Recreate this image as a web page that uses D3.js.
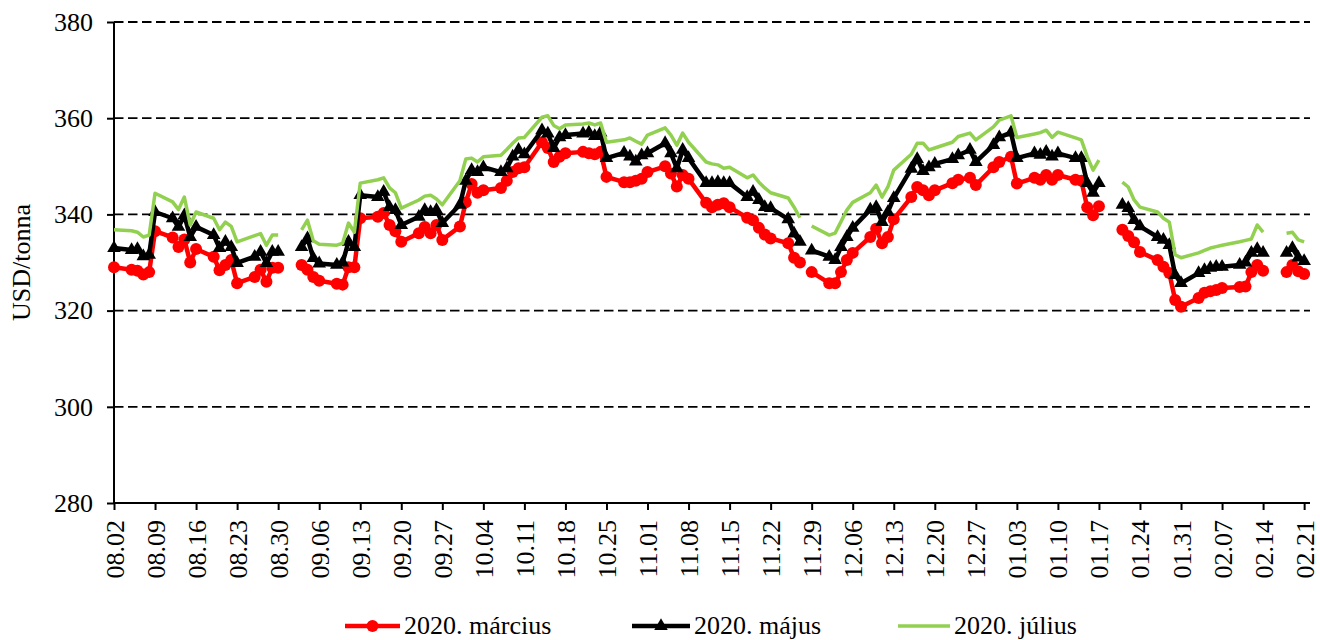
<!DOCTYPE html>
<html>
<head>
<meta charset="utf-8">
<script src="https://cdnjs.cloudflare.com/ajax/libs/d3/7.8.5/d3.min.js"></script>
<style>
  body { margin: 0; background: #fff; }
  svg { display: block; font-family: "Liberation Serif", "Times New Roman", serif; }
</style>
</head>
<body>
<svg id="chart"></svg>
<script>
// trading days (MM.DD), 2019-08 .. 2020-02; null = no quote (US holiday)
const days = [
  "08.02",
  "08.05","08.06","08.07","08.08","08.09",
  "08.12","08.13","08.14","08.15","08.16",
  "08.19","08.20","08.21","08.22","08.23",
  "08.26","08.27","08.28","08.29","08.30",
  "09.02","09.03","09.04","09.05","09.06",
  "09.09","09.10","09.11","09.12","09.13",
  "09.16","09.17","09.18","09.19","09.20",
  "09.23","09.24","09.25","09.26","09.27",
  "09.30","10.01","10.02","10.03","10.04",
  "10.07","10.08","10.09","10.10","10.11",
  "10.14","10.15","10.16","10.17","10.18",
  "10.21","10.22","10.23","10.24","10.25",
  "10.28","10.29","10.30","10.31","11.01",
  "11.04","11.05","11.06","11.07","11.08",
  "11.11","11.12","11.13","11.14","11.15",
  "11.18","11.19","11.20","11.21","11.22",
  "11.25","11.26","11.27","11.28","11.29",
  "12.02","12.03","12.04","12.05","12.06",
  "12.09","12.10","12.11","12.12","12.13",
  "12.16","12.17","12.18","12.19","12.20",
  "12.23","12.24","12.26","12.27",
  "12.30","12.31","01.02","01.03",
  "01.06","01.07","01.08","01.09","01.10",
  "01.13","01.14","01.15","01.16","01.17",
  "01.20","01.21","01.22","01.23","01.24",
  "01.27","01.28","01.29","01.30","01.31",
  "02.03","02.04","02.05","02.06","02.07",
  "02.10","02.11","02.12","02.13","02.14",
  "02.17","02.18","02.19","02.20","02.21"
];

const marcius = [
  329.0,
  328.5,328.3,327.5,328.0,336.5,
  335.2,333.2,334.8,330.0,332.8,
  331.2,328.4,329.5,330.5,325.7,
  327.0,328.5,326.0,328.9,328.9,
  null,329.5,328.5,327.0,326.2,
  325.6,325.4,329.0,329.0,339.2,
  339.5,340.3,337.8,336.5,334.3,
  336.1,337.4,336.1,337.8,334.7,
  337.5,342.5,346.3,344.5,345.0,
  345.5,347.0,348.8,349.6,349.8,
  355.0,353.8,350.9,352.0,352.7,
  353.0,352.7,352.5,353.0,347.8,
  346.7,346.7,347.0,347.4,348.8,
  350.0,348.5,345.8,348.2,347.4,
  342.4,341.5,342.0,342.3,341.5,
  339.3,338.8,337.2,335.8,335.0,
  334.0,331.0,330.0,null,328.0,
  325.7,325.7,328.0,330.5,332.0,
  335.3,337.0,334.0,335.3,339.0,
  343.6,345.7,345.0,344.0,345.0,
  346.5,347.2,347.6,346.1,
  349.8,350.9,352.0,346.4,
  347.6,347.2,348.2,347.2,348.2,
  347.2,347.0,341.5,339.8,341.7,
  null,336.8,335.5,334.2,332.2,
  330.5,329.1,327.8,322.2,320.8,
  322.6,323.7,324.0,324.3,324.7,
  324.9,325.0,328.0,329.5,328.3,
  null,328.0,329.5,328.2,327.6
];

const majus = [
  333.0,
  332.6,332.8,331.3,331.6,340.5,
  339.2,337.4,339.8,335.3,337.4,
  335.7,333.0,334.3,333.2,329.9,
  331.2,332.2,329.9,332.2,332.2,
  null,333.2,335.0,330.9,329.8,
  329.5,330.0,334.3,333.2,344.0,
  343.6,344.7,341.5,340.9,337.8,
  339.5,340.9,340.5,340.9,338.2,
  342.0,347.0,349.2,348.8,349.8,
  348.8,349.6,352.0,353.4,352.5,
  357.5,356.8,353.8,356.0,356.5,
  356.8,357.0,356.3,357.0,351.7,
  352.8,352.0,351.0,352.3,352.7,
  354.8,352.7,349.6,353.4,351.7,
  346.5,346.5,346.7,346.5,346.5,
  343.6,344.7,343.0,341.5,341.3,
  339.0,336.0,334.3,null,332.5,
  331.2,330.5,333.2,335.3,337.2,
  341.0,341.5,338.4,340.5,343.4,
  349.5,351.5,349.0,349.8,350.5,
  351.5,352.3,353.4,350.9,
  354.4,356.0,357.0,351.7,
  352.7,352.4,353.0,352.0,352.7,
  351.7,351.7,346.5,344.5,346.5,
  null,342.0,341.3,338.8,337.5,
  335.3,334.7,333.6,327.4,325.7,
  327.8,328.4,328.9,329.1,329.1,
  329.5,330.0,332.0,332.8,332.0,
  null,332.0,333.0,331.0,330.3
];

const julius = [
  336.8,
  336.6,336.3,335.3,335.7,344.4,
  342.6,341.0,343.6,337.8,340.5,
  339.2,336.8,338.4,337.5,334.3,
  335.6,336.0,333.6,335.7,335.7,
  null,336.8,338.8,334.5,333.8,
  333.6,334.0,338.2,336.3,346.5,
  347.2,347.6,345.5,344.5,341.3,
  343.0,343.8,344.0,343.2,342.0,
  347.0,351.5,351.7,350.9,352.0,
  352.3,353.5,354.8,355.9,356.0,
  360.2,360.5,358.5,357.8,358.6,
  358.8,359.0,358.6,359.0,355.0,
  355.5,355.9,355.2,354.6,356.5,
  358.0,356.5,354.4,356.9,355.0,
  350.9,350.5,350.3,349.6,349.8,
  347.6,348.2,346.7,345.5,344.5,
  343.4,341.5,339.3,null,337.6,
  335.7,336.1,338.5,340.9,342.5,
  344.5,346.1,343.6,345.7,349.2,
  352.5,354.8,354.8,353.4,353.8,
  355.0,356.2,356.9,355.5,
  358.2,359.6,360.5,356.0,
  356.7,357.0,357.5,356.0,357.1,
  355.9,355.5,352.0,349.2,351.3,
  null,346.7,345.7,343.0,341.5,
  340.5,339.2,338.4,331.6,331.0,
  332.0,332.5,333.0,333.3,333.6,
  334.3,334.6,334.9,337.8,336.3,
  null,336.1,336.3,334.7,334.3
];

const xTickLabels = [
  "08.02","08.09","08.16","08.23","08.30","09.06","09.13","09.20","09.27",
  "10.04","10.11","10.18","10.25","11.01","11.08","11.15","11.22","11.29",
  "12.06","12.13","12.20","12.27","01.03","01.10","01.17","01.24","01.31",
  "02.07","02.14","02.21"
];
const yTicks = [280, 300, 320, 340, 360, 380];
const seriesNames = ["2020. március", "2020. május", "2020. július"];

const W = 1320, H = 640;
const svg = d3.select("#chart").attr("width", W).attr("height", H);

const parseDay = s => {
  const [m, d] = s.split(".").map(Number);
  return new Date(Date.UTC(m >= 8 ? 2019 : 2020, m - 1, d));
};

const x = d3.scaleUtc()
  .domain([parseDay("08.02"), new Date(Date.UTC(2020, 1, 22))])
  .range([114, 1310]);
const y = d3.scaleLinear().domain([280, 380]).range([503, 22]);

// gridlines
svg.append("g")
  .selectAll("line")
  .data(yTicks.filter(v => v > 280))
  .join("line")
  .attr("x1", x.range()[0]).attr("x2", x.range()[1])
  .attr("y1", d => y(d)).attr("y2", d => y(d))
  .attr("stroke", "#000")
  .attr("stroke-width", 1.8)
  .attr("stroke-dasharray", "9.5,4.5");

// y axis
const yAxis = svg.append("g")
  .attr("transform", `translate(${x.range()[0]},0)`)
  .call(d3.axisLeft(y).tickValues(yTicks).tickSize(7).tickPadding(14).tickFormat(d3.format("d")));
yAxis.select(".domain").attr("stroke-width", 2).attr("d", `M0,${y(280)}V${y(380)}`);
yAxis.selectAll(".tick line").attr("stroke-width", 2);
yAxis.selectAll("text").attr("font-size", 26).attr("font-family", "Liberation Serif").attr("fill", "#000");

// x axis
const xTicks = xTickLabels.map(parseDay);
const xAxis = svg.append("g")
  .attr("transform", `translate(0,${y(280)})`)
  .call(d3.axisBottom(x).tickValues(xTicks).tickSize(7).tickFormat(d3.utcFormat("%m.%d")));
xAxis.select(".domain").attr("stroke-width", 2).attr("d", `M${x.range()[0]},0H${x.range()[1]}`);
xAxis.selectAll(".tick line").attr("stroke-width", 2);
xAxis.selectAll("text")
  .attr("font-size", 26).attr("font-family", "Liberation Serif").attr("fill", "#000")
  .attr("text-anchor", "end")
  .attr("dy", null).attr("y", null)
  .attr("transform", "translate(9,17) rotate(-90)");

// axis title
svg.append("text")
  .attr("transform", `translate(30,${(y(280) + y(380)) / 2}) rotate(-90)`)
  .attr("text-anchor", "middle")
  .attr("font-size", 26)
  .text("USD/tonna");

const toPoints = vals => days.map((d, i) => ({ date: parseDay(d), v: vals[i] }));
const line = d3.line().defined(d => d.v != null).x(d => x(d.date)).y(d => y(d.v));

// 2020. március
const ptsM = toPoints(marcius);
svg.append("path").datum(ptsM)
  .attr("fill", "none").attr("stroke", "#ff0000").attr("stroke-width", 4.5)
  .attr("stroke-linejoin", "round").attr("d", line);
svg.append("g").selectAll("circle")
  .data(ptsM.filter(d => d.v != null))
  .join("circle")
  .attr("cx", d => x(d.date)).attr("cy", d => y(d.v))
  .attr("r", 6).attr("fill", "#ff0000");

// 2020. május
const ptsMj = toPoints(majus);
svg.append("path").datum(ptsMj)
  .attr("fill", "none").attr("stroke", "#000").attr("stroke-width", 4.5)
  .attr("stroke-linejoin", "round").attr("d", line);
const tri = d3.symbol(d3.symbolTriangle, 80);
svg.append("g").selectAll("path")
  .data(ptsMj.filter(d => d.v != null))
  .join("path")
  .attr("transform", d => `translate(${x(d.date)},${y(d.v)})`)
  .attr("d", tri).attr("fill", "#000");

// 2020. július
svg.append("path").datum(toPoints(julius))
  .attr("fill", "none").attr("stroke", "#92d050").attr("stroke-width", 3.5)
  .attr("stroke-linejoin", "round").attr("d", line);

// legend
const lg = svg.append("g");
const legendY = 626;
const items = [
  { x0: 345, x1: 400, color: "#ff0000", w: 4.5, mark: "circle" },
  { x0: 632, x1: 690, color: "#000", w: 4.5, mark: "triangle" },
  { x0: 898, x1: 950, color: "#92d050", w: 3.5, mark: null }
];
items.forEach((it, i) => {
  lg.append("line")
    .attr("x1", it.x0).attr("x2", it.x1).attr("y1", legendY).attr("y2", legendY)
    .attr("stroke", it.color).attr("stroke-width", it.w);
  const cx = (it.x0 + it.x1) / 2;
  if (it.mark === "circle") {
    lg.append("circle").attr("cx", cx).attr("cy", legendY).attr("r", 6).attr("fill", it.color);
  } else if (it.mark === "triangle") {
    lg.append("path").attr("transform", `translate(${cx},${legendY})`).attr("d", tri).attr("fill", it.color);
  }
  lg.append("text")
    .attr("x", it.x1 + 4).attr("y", legendY + 8)
    .attr("font-size", 26)
    .text(seriesNames[i]);
});
</script>
</body>
</html>
